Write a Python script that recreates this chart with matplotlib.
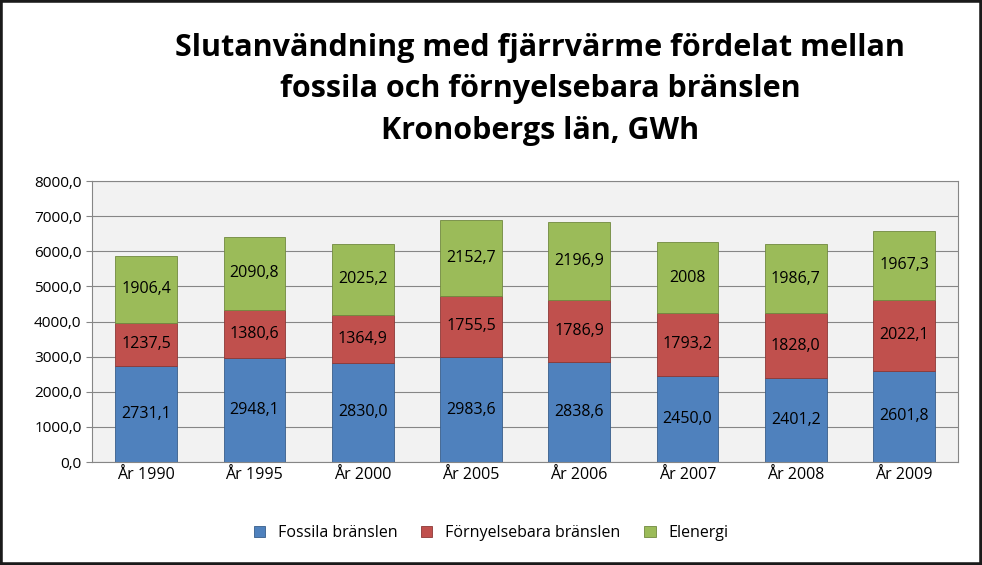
import matplotlib.pyplot as plt
from matplotlib.patches import Rectangle

years = ["År 1990", "År 1995", "År 2000", "År 2005", "År 2006", "År 2007", "År 2008", "År 2009"]
fossila = [2731.1, 2948.1, 2830.0, 2983.6, 2838.6, 2450.0, 2401.2, 2601.8]
fornybara = [1237.5, 1380.6, 1364.9, 1755.5, 1786.9, 1793.2, 1828.0, 2022.1]
elenergi = [1906.4, 2090.8, 2025.2, 2152.7, 2196.9, 2008, 1986.7, 1967.3]
el_labels = ["1906,4", "2090,8", "2025,2", "2152,7", "2196,9", "2008", "1986,7", "1967,3"]

def fmt(v):
    return f"{v:.1f}".replace(".", ",")

plt.rcParams["font.family"] = "Open Sans"
fig = plt.figure(figsize=(9.82, 5.65), dpi=100)
ax = fig.add_axes([0.0937, 0.1823, 0.882, 0.4973])
ax.set_facecolor("#f2f2f2")

x = range(len(years))
w = 0.57
b1 = ax.bar(x, fossila, w, color="#4f81bd", edgecolor="#385d8a", linewidth=0.6, label="Fossila bränslen")
b2 = ax.bar(x, fornybara, w, bottom=fossila, color="#c0504d", edgecolor="#8c3836", linewidth=0.6, label="Förnyelsebara bränslen")
bottom3 = [a + b for a, b in zip(fossila, fornybara)]
b3 = ax.bar(x, elenergi, w, bottom=bottom3, color="#9bbb59", edgecolor="#71893f", linewidth=0.6, label="Elenergi")

ax.bar_label(b1, labels=[fmt(v) for v in fossila], label_type="center", fontsize=11.5)
ax.bar_label(b2, labels=[fmt(v) for v in fornybara], label_type="center", fontsize=11.5)
ax.bar_label(b3, labels=el_labels, label_type="center", fontsize=11.5)

ax.set_ylim(0, 8000)
ax.set_xlim(-0.5, len(years) - 0.5)
ax.set_yticks(range(0, 8001, 1000))
ax.set_yticklabels([fmt(v) for v in range(0, 8001, 1000)], fontsize=11)
ax.set_xticks(list(x))
ax.set_xticklabels(years, fontsize=11.5)
ax.yaxis.grid(True, color="#868686", linewidth=0.8)
ax.set_axisbelow(True)
for s in ax.spines.values():
    s.set_color("#868686")
ax.tick_params(axis="x", length=0)
ax.tick_params(axis="y", length=4, color="#868686")

fig.text(0.55, 0.842, "Slutanvändning med fjärrvärme fördelat mellan\nfossila och förnyelsebara bränslen\nKronobergs län, GWh",
         ha="center", va="center", fontsize=22, fontweight="bold", linespacing=1.5)

fig.legend(handles=[b1, b2, b3], loc="center", bbox_to_anchor=(0.5, 0.056), ncol=3,
           frameon=False, fontsize=11.5, handlelength=0.7, handleheight=0.7, columnspacing=1.5)

fig.patches.append(Rectangle((0, 0), 1, 1, transform=fig.transFigure, fill=False,
                             edgecolor="#1a1a1a", linewidth=4))
fig.savefig("out.png", dpi=100)
